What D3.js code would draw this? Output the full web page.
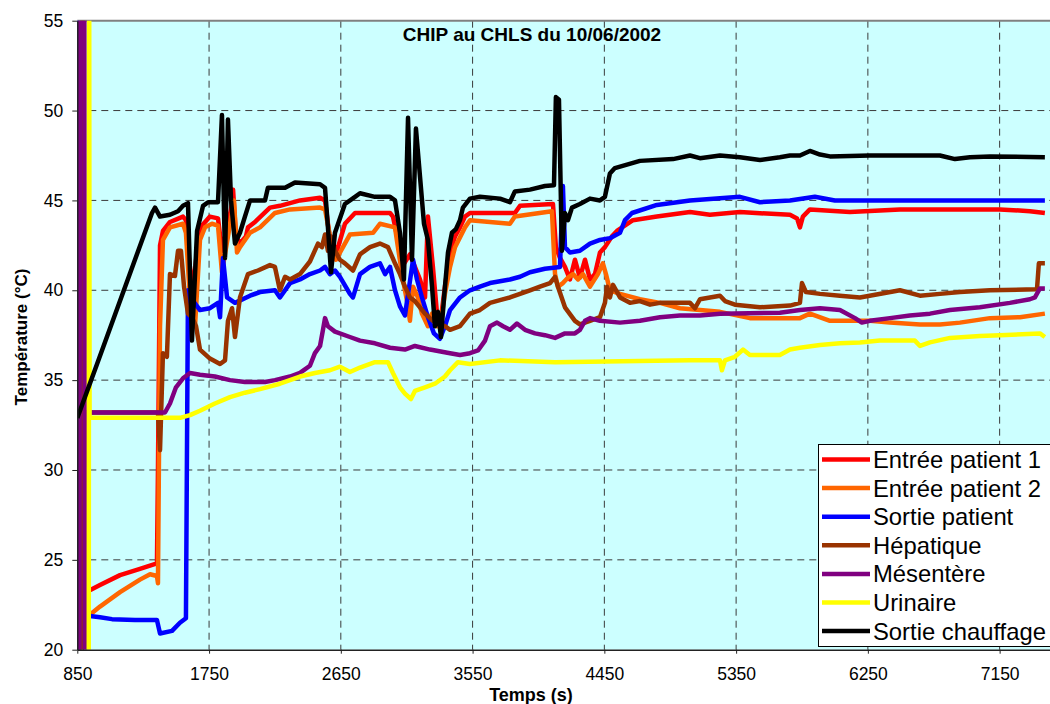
<!DOCTYPE html>
<html>
<head>
<meta charset="utf-8">
<script src="https://cdn.jsdelivr.net/npm/d3@7"></script>
<style>
  html, body { margin: 0; padding: 0; background: #fff; }
  svg { display: block; font-family: "Liberation Sans", Arial, sans-serif; }
</style>
</head>
<body>
<svg id="chart" width="1050" height="704"></svg>
<script>
// Temperature recordings, [time (s), temperature (°C)]
const entreePatient1 = [
  [909,23.2],[1005,23.6],[1142,24.15],[1278,24.5],[1394,24.8],[1401,30],[1415,42.5],[1435,43.3],[1483,43.8],
  [1572,44.1],[1592,43.9],[1613,41.7],[1640,40.0],[1668,42.2],[1702,43.6],[1756,44.1],[1811,44.0],[1838,42.2],
  [1900,44.5],[1914,45.6],[1934,43.0],[1961,42.6],[2002,43.0],[2016,43.5],[2064,43.8],[2166,44.6],[2234,44.7],
  [2371,45.0],[2508,45.15],[2542,45.0],[2576,42.8],[2624,42.2],[2678,43.7],[2747,44.3],[2986,44.3],[3006,44.1],
  [3040,42.8],[3068,41.3],[3122,42.0],[3156,41.3],[3191,40.6],[3225,39.6],[3245,44.1],[3279,41.3],[3307,38.7],
  [3327,38.0],[3361,40.2],[3396,42.1],[3430,43.0],[3464,43.5],[3498,44.1],[3532,44.3],[3839,44.3],[3874,44.7],
  [4099,44.8],[4119,42.4],[4147,41.8],[4181,41.3],[4215,40.6],[4249,41.7],[4283,40.7],[4318,41.7],[4352,40.6],
  [4386,40.9],[4420,42.1],[4454,42.4],[4502,43.0],[4536,43.3],[4645,43.9],[4809,44.1],[5035,44.35],[5171,44.2],
  [5376,44.35],[5718,44.2],[5766,44.0],[5786,43.5],[5806,44.1],[5854,44.5],[6127,44.35],[6469,44.5],[6879,44.5],
  [7152,44.5],[7357,44.4],[7459,44.3]
];
const entreePatient2 = [
  [930,21.9],[1005,22.4],[1142,23.2],[1278,23.9],[1347,24.2],[1394,24.1],[1401,23.7],[1415,38],[1435,42.8],
  [1483,43.5],[1572,43.7],[1592,43.2],[1620,39.5],[1654,38.0],[1688,42.8],[1722,43.5],[1770,43.7],[1811,43.6],
  [1838,41.0],[1900,44.0],[1920,45.0],[1941,42.1],[1961,42.4],[2030,43.2],[2098,43.5],[2200,44.3],[2303,44.5],
  [2508,44.6],[2542,44.5],[2590,42.4],[2617,41.7],[2692,42.8],[2712,43.1],[2870,43.2],[2917,43.7],[3020,43.5],
  [3040,42.4],[3074,40.6],[3109,39.1],[3122,38.3],[3143,40.2],[3177,39.6],[3204,38.7],[3245,38.0],[3273,38.7],
  [3307,38.0],[3334,38.3],[3361,39.8],[3396,41.3],[3430,42.4],[3498,43.5],[3532,43.9],[3805,43.7],[3839,44.1],
  [4092,44.4],[4113,40.9],[4133,40.2],[4167,40.4],[4201,40.7],[4236,40.9],[4270,40.6],[4304,40.9],[4352,40.2],
  [4406,40.9],[4440,41.5],[4461,40.9],[4488,40.0],[4557,39.8],[4693,39.5],[4830,39.3],[4966,39.0],[5103,38.9],
  [5240,38.8],[5444,38.45],[5786,38.45],[5854,38.7],[5991,38.3],[6264,38.3],[6401,38.2],[6606,38.1],[6742,38.1],
  [6879,38.2],[7084,38.45],[7289,38.5],[7459,38.7]
];
const sortiePatient = [
  [848,56],[852,15],[856,21.9],[909,21.9],[1005,21.8],[1087,21.7],[1244,21.65],[1394,21.65],[1415,20.9],[1497,21.05],
  [1551,21.5],[1592,21.75],[1606,40.0],[1633,39.5],[1688,38.9],[1756,39.0],[1811,39.3],[1825,38.5],[1845,41.8],
  [1873,39.6],[1927,39.3],[2030,39.7],[2098,39.9],[2200,40.0],[2234,39.6],[2303,40.4],[2371,40.6],[2439,40.9],
  [2508,41.1],[2542,41.3],[2576,40.9],[2610,41.1],[2644,40.75],[2712,39.8],[2733,39.6],[2781,40.9],[2849,41.3],
  [2917,41.5],[2952,40.9],[2986,41.3],[3020,40.0],[3054,39.1],[3088,38.6],[3122,40.5],[3143,41.7],[3170,40.6],
  [3204,39.6],[3245,38.5],[3286,37.6],[3327,37.3],[3361,38.0],[3396,38.9],[3464,39.6],[3532,40.0],[3600,40.2],
  [3669,40.4],[3737,40.5],[3805,40.6],[3874,40.75],[3942,41.0],[4044,41.2],[4147,41.3],[4167,45.8],[4181,42.4],
  [4215,42.1],[4283,42.2],[4352,42.6],[4420,42.8],[4488,42.9],[4557,43.2],[4591,43.9],[4639,44.3],[4809,44.75],
  [5035,45.0],[5376,45.2],[5513,44.9],[5718,45.0],[5888,45.2],[6025,45.0],[6469,45.0],[7459,45.0]
];
const hepatique = [
  [880,15],[885,60],[890,33.2],[1401,33.2],[1415,31.1],[1435,36.5],[1462,36.3],[1483,40.9],[1517,40.8],
  [1538,42.2],[1558,42.2],[1579,40.2],[1606,38.7],[1633,38.5],[1661,38.0],[1688,36.7],[1756,36.2],[1825,35.9],
  [1859,36.1],[1879,38.3],[1907,39.0],[1927,37.4],[1961,39.6],[2016,40.9],[2084,41.1],[2166,41.4],[2200,41.3],
  [2234,40.0],[2269,40.75],[2303,40.6],[2371,40.9],[2439,41.6],[2494,42.6],[2521,42.4],[2542,43.1],[2562,42.2],
  [2583,43.0],[2610,42.2],[2644,41.7],[2678,41.5],[2733,41.1],[2781,42.0],[2849,42.4],[2917,42.6],[2972,42.4],
  [3020,41.5],[3054,40.9],[3088,40.2],[3122,39.6],[3156,39.4],[3225,38.7],[3293,38.2],[3361,38.0],[3396,37.8],
  [3464,38.0],[3532,38.7],[3600,38.9],[3669,39.3],[3737,39.45],[3805,39.6],[3874,39.8],[3942,40.0],[4010,40.2],
  [4079,40.4],[4113,40.75],[4133,40.2],[4181,39.05],[4249,38.3],[4283,38.1],[4352,38.3],[4420,38.5],[4454,39.3],
  [4468,40.2],[4488,39.6],[4509,40.3],[4557,39.6],[4625,39.3],[4693,39.4],[4762,39.2],[4830,39.3],[5035,39.3],
  [5069,39.0],[5103,39.5],[5240,39.7],[5274,39.4],[5342,39.2],[5513,39.05],[5718,39.15],[5786,39.3],[5800,40.4],
  [5827,39.9],[5923,39.8],[6059,39.7],[6196,39.6],[6469,40.0],[6606,39.7],[6742,39.8],[6879,39.9],[7084,40.0],
  [7405,40.05],[7418,41.5],[7459,41.5]
];
const mesentere = [
  [864,15],[868,60],[898,60],[902,15],[906,33.2],[1449,33.2],[1483,33.7],[1524,34.6],[1572,35.1],[1620,35.4],[1688,35.3],
  [1790,35.2],[1893,35.0],[1995,34.9],[2132,34.9],[2200,35.0],[2303,35.2],[2371,35.4],[2439,35.8],[2473,36.5],
  [2508,36.9],[2528,37.8],[2542,38.45],[2562,38.0],[2610,37.7],[2712,37.4],[2781,37.2],[2883,37.05],[2986,36.8],
  [3088,36.7],[3156,36.9],[3259,36.7],[3396,36.5],[3464,36.4],[3532,36.5],[3587,36.65],[3635,37.2],[3669,38.0],
  [3717,38.2],[3758,38.0],[3805,37.8],[3853,38.15],[3908,37.8],[3976,37.6],[4044,37.5],[4113,37.35],[4181,37.6],
  [4249,37.6],[4283,37.8],[4318,38.3],[4352,38.45],[4420,38.3],[4557,38.2],[4693,38.3],[4830,38.5],[4966,38.6],
  [5103,38.6],[5240,38.7],[5649,38.75],[5786,38.9],[5923,39.0],[6059,38.9],[6162,38.45],[6209,38.2],[6264,38.3],
  [6401,38.45],[6537,38.6],[6674,38.7],[6811,38.9],[7015,39.05],[7220,39.3],[7357,39.5],[7391,39.6],[7425,40.1],
  [7459,40.1]
];
const urinaire = [
  [928,15],[931,60],[934,32.9],[1551,32.9],[1620,33.05],[1688,33.3],[1790,33.7],[1893,34.05],[1995,34.3],
  [2098,34.5],[2234,34.8],[2371,35.2],[2473,35.4],[2576,35.55],[2644,35.75],[2712,35.45],[2781,35.7],[2883,36.0],
  [2972,36.0],[3006,35.4],[3054,34.6],[3088,34.25],[3129,33.95],[3156,34.4],[3225,34.6],[3293,34.8],[3361,35.2],
  [3396,35.55],[3450,36.0],[3532,35.9],[3737,36.1],[4113,36.0],[5035,36.1],[5240,36.1],[5253,35.55],[5274,36.1],
  [5342,36.3],[5397,36.7],[5444,36.4],[5649,36.4],[5718,36.7],[5786,36.8],[5923,36.95],[6059,37.05],[6196,37.1],
  [6332,37.2],[6571,37.2],[6606,36.9],[6674,37.1],[6811,37.35],[7015,37.45],[7152,37.5],[7425,37.6],[7459,37.4]
];
const sortieChauffage = [
  [850,32.9],[985,35.9],[1360,44.3],[1381,44.6],[1415,44.1],[1483,44.2],[1538,44.4],[1572,44.7],[1606,44.85],
  [1633,37.2],[1668,43.3],[1709,44.7],[1743,44.9],[1811,44.9],[1838,49.75],[1859,41.8],[1879,49.5],[1900,45.0],
  [1927,42.6],[1961,43.2],[1995,44.1],[2030,45.0],[2132,45.0],[2152,45.7],[2269,45.7],[2337,46.0],[2508,45.9],
  [2542,45.7],[2562,43.5],[2583,41.0],[2610,43.2],[2678,44.8],[2747,45.2],[2781,45.4],[2883,45.2],[2986,45.2],
  [3020,45.0],[3054,43.2],[3081,40.6],[3109,49.6],[3136,41.7],[3163,49.0],[3191,46.3],[3218,43.7],[3245,42.8],
  [3273,40.2],[3293,38.0],[3314,38.8],[3334,37.4],[3355,39.6],[3382,42.1],[3409,43.2],[3436,43.4],[3464,43.9],
  [3484,44.6],[3532,45.1],[3600,45.2],[3737,45.1],[3805,44.9],[3839,45.5],[3942,45.6],[4044,45.8],[4106,45.85],
  [4119,50.75],[4140,50.6],[4160,42.2],[4181,44.3],[4201,43.9],[4229,44.6],[4283,44.8],[4352,45.1],[4420,45.0],
  [4454,45.2],[4488,46.5],[4522,46.8],[4693,47.2],[4919,47.3],[5035,47.5],[5103,47.35],[5240,47.5],[5376,47.4],
  [5513,47.25],[5649,47.4],[5718,47.5],[5786,47.5],[5854,47.75],[5923,47.55],[5991,47.45],[6264,47.5],[6742,47.5],
  [6845,47.3],[6947,47.4],[7084,47.45],[7459,47.4]
];

const seriesNames = ["Entrée patient 1", "Entrée patient 2", "Sortie patient", "Hépatique", "Mésentère", "Urinaire", "Sortie chauffage"];
const seriesColors = ["#ff0000", "#ff6600", "#0000ff", "#993300", "#800080", "#ffff00", "#000000"];
const seriesData = [entreePatient1, entreePatient2, sortiePatient, hepatique, mesentere, urinaire, sortieChauffage];

const xTicks = [850, 1750, 2650, 3550, 4450, 5350, 6250, 7150];
const yTicks = [20, 25, 30, 35, 40, 45, 50, 55];
const chartTitle = "CHIP au CHLS du 10/06/2002";
const xTitle = "Temps (s)";
const yTitle = "Température (°C)";

const svg = d3.select("#chart");
const plot = { left: 77.3, right: 1050, top: 20.7, bottom: 649.7 };

const x = d3.scaleLinear().domain([850, 7494]).range([plot.left, plot.right]);
const y = d3.scaleLinear().domain([20, 55]).range([plot.bottom, plot.top]);

// plot area background
svg.append("rect")
  .attr("x", plot.left).attr("y", plot.top)
  .attr("width", plot.right - plot.left).attr("height", plot.bottom - plot.top)
  .attr("fill", "#ccffff");

// dashed grid
const grid = svg.append("g").attr("stroke", "#3a3a3a").attr("stroke-width", 1).attr("stroke-dasharray", "7,5");
grid.selectAll(".gx").data(xTicks.slice(1)).join("line")
  .attr("x1", d => x(d)).attr("x2", d => x(d))
  .attr("y1", plot.top).attr("y2", plot.bottom);
grid.selectAll(".gy").data(yTicks.slice(1, -1)).join("line")
  .attr("x1", plot.left).attr("x2", plot.right)
  .attr("y1", d => y(d)).attr("y2", d => y(d));

// top frame
svg.append("line")
  .attr("x1", plot.left).attr("x2", plot.right)
  .attr("y1", plot.top).attr("y2", plot.top)
  .attr("stroke", "#808080").attr("stroke-width", 2);

// series
svg.append("clipPath").attr("id", "clip")
  .append("rect")
  .attr("x", plot.left).attr("y", plot.top)
  .attr("width", plot.right - plot.left).attr("height", plot.bottom - plot.top);

const line = d3.line().x(d => x(d[0])).y(d => y(d[1]));
const lines = svg.append("g").attr("clip-path", "url(#clip)");
seriesData.forEach((data, i) => {
  lines.append("path")
    .datum(data)
    .attr("d", line)
    .attr("fill", "none")
    .attr("stroke", seriesColors[i])
    .attr("stroke-width", 4.5)
    .attr("stroke-linejoin", "round");
});

// axes
const xAxis = svg.append("g")
  .attr("transform", `translate(0,${plot.bottom})`)
  .call(d3.axisBottom(x).tickValues(xTicks).tickSize(4).tickSizeOuter(0).tickPadding(14).tickFormat(d3.format("d")));
const yAxis = svg.append("g")
  .attr("transform", `translate(${plot.left},0)`)
  .call(d3.axisLeft(y).tickValues(yTicks).tickSize(5).tickSizeOuter(0).tickPadding(9).tickFormat(d3.format("d")));

[xAxis, yAxis].forEach(g => {
  g.select(".domain").attr("stroke", "#222").attr("stroke-width", 1.5);
  g.selectAll(".tick line").attr("stroke", "#222");
  g.selectAll(".tick text")
    .attr("fill", "#000")
    .style("font-family", '"Liberation Sans", Arial, sans-serif')
    .style("font-size", "17.5px");
});

// titles
svg.append("text")
  .attr("x", 532).attr("y", 41)
  .attr("text-anchor", "middle")
  .style("font-size", "19px").style("font-weight", "bold")
  .text(chartTitle);

svg.append("text")
  .attr("x", 531).attr("y", 701)
  .attr("text-anchor", "middle")
  .style("font-size", "18px").style("font-weight", "bold")
  .text(xTitle);

svg.append("text")
  .attr("transform", "translate(27,337) rotate(-90)")
  .attr("text-anchor", "middle")
  .style("font-size", "17px").style("font-weight", "bold")
  .text(yTitle);

// legend
const legend = svg.append("g");
legend.append("rect")
  .attr("x", 818.5).attr("y", 444.5)
  .attr("width", 240).attr("height", 202)
  .attr("fill", "#fff").attr("stroke", "#000").attr("stroke-width", 1);

const rowY = i => 459.5 + i * 28.6;
seriesNames.forEach((name, i) => {
  legend.append("line")
    .attr("x1", 822).attr("x2", 870)
    .attr("y1", rowY(i)).attr("y2", rowY(i))
    .attr("stroke", seriesColors[i]).attr("stroke-width", 4.5);
  legend.append("text")
    .attr("x", 873).attr("y", rowY(i))
    .attr("dy", "0.36em")
    .style("font-size", "23.8px")
    .text(name);
});
</script>
</body>
</html>
